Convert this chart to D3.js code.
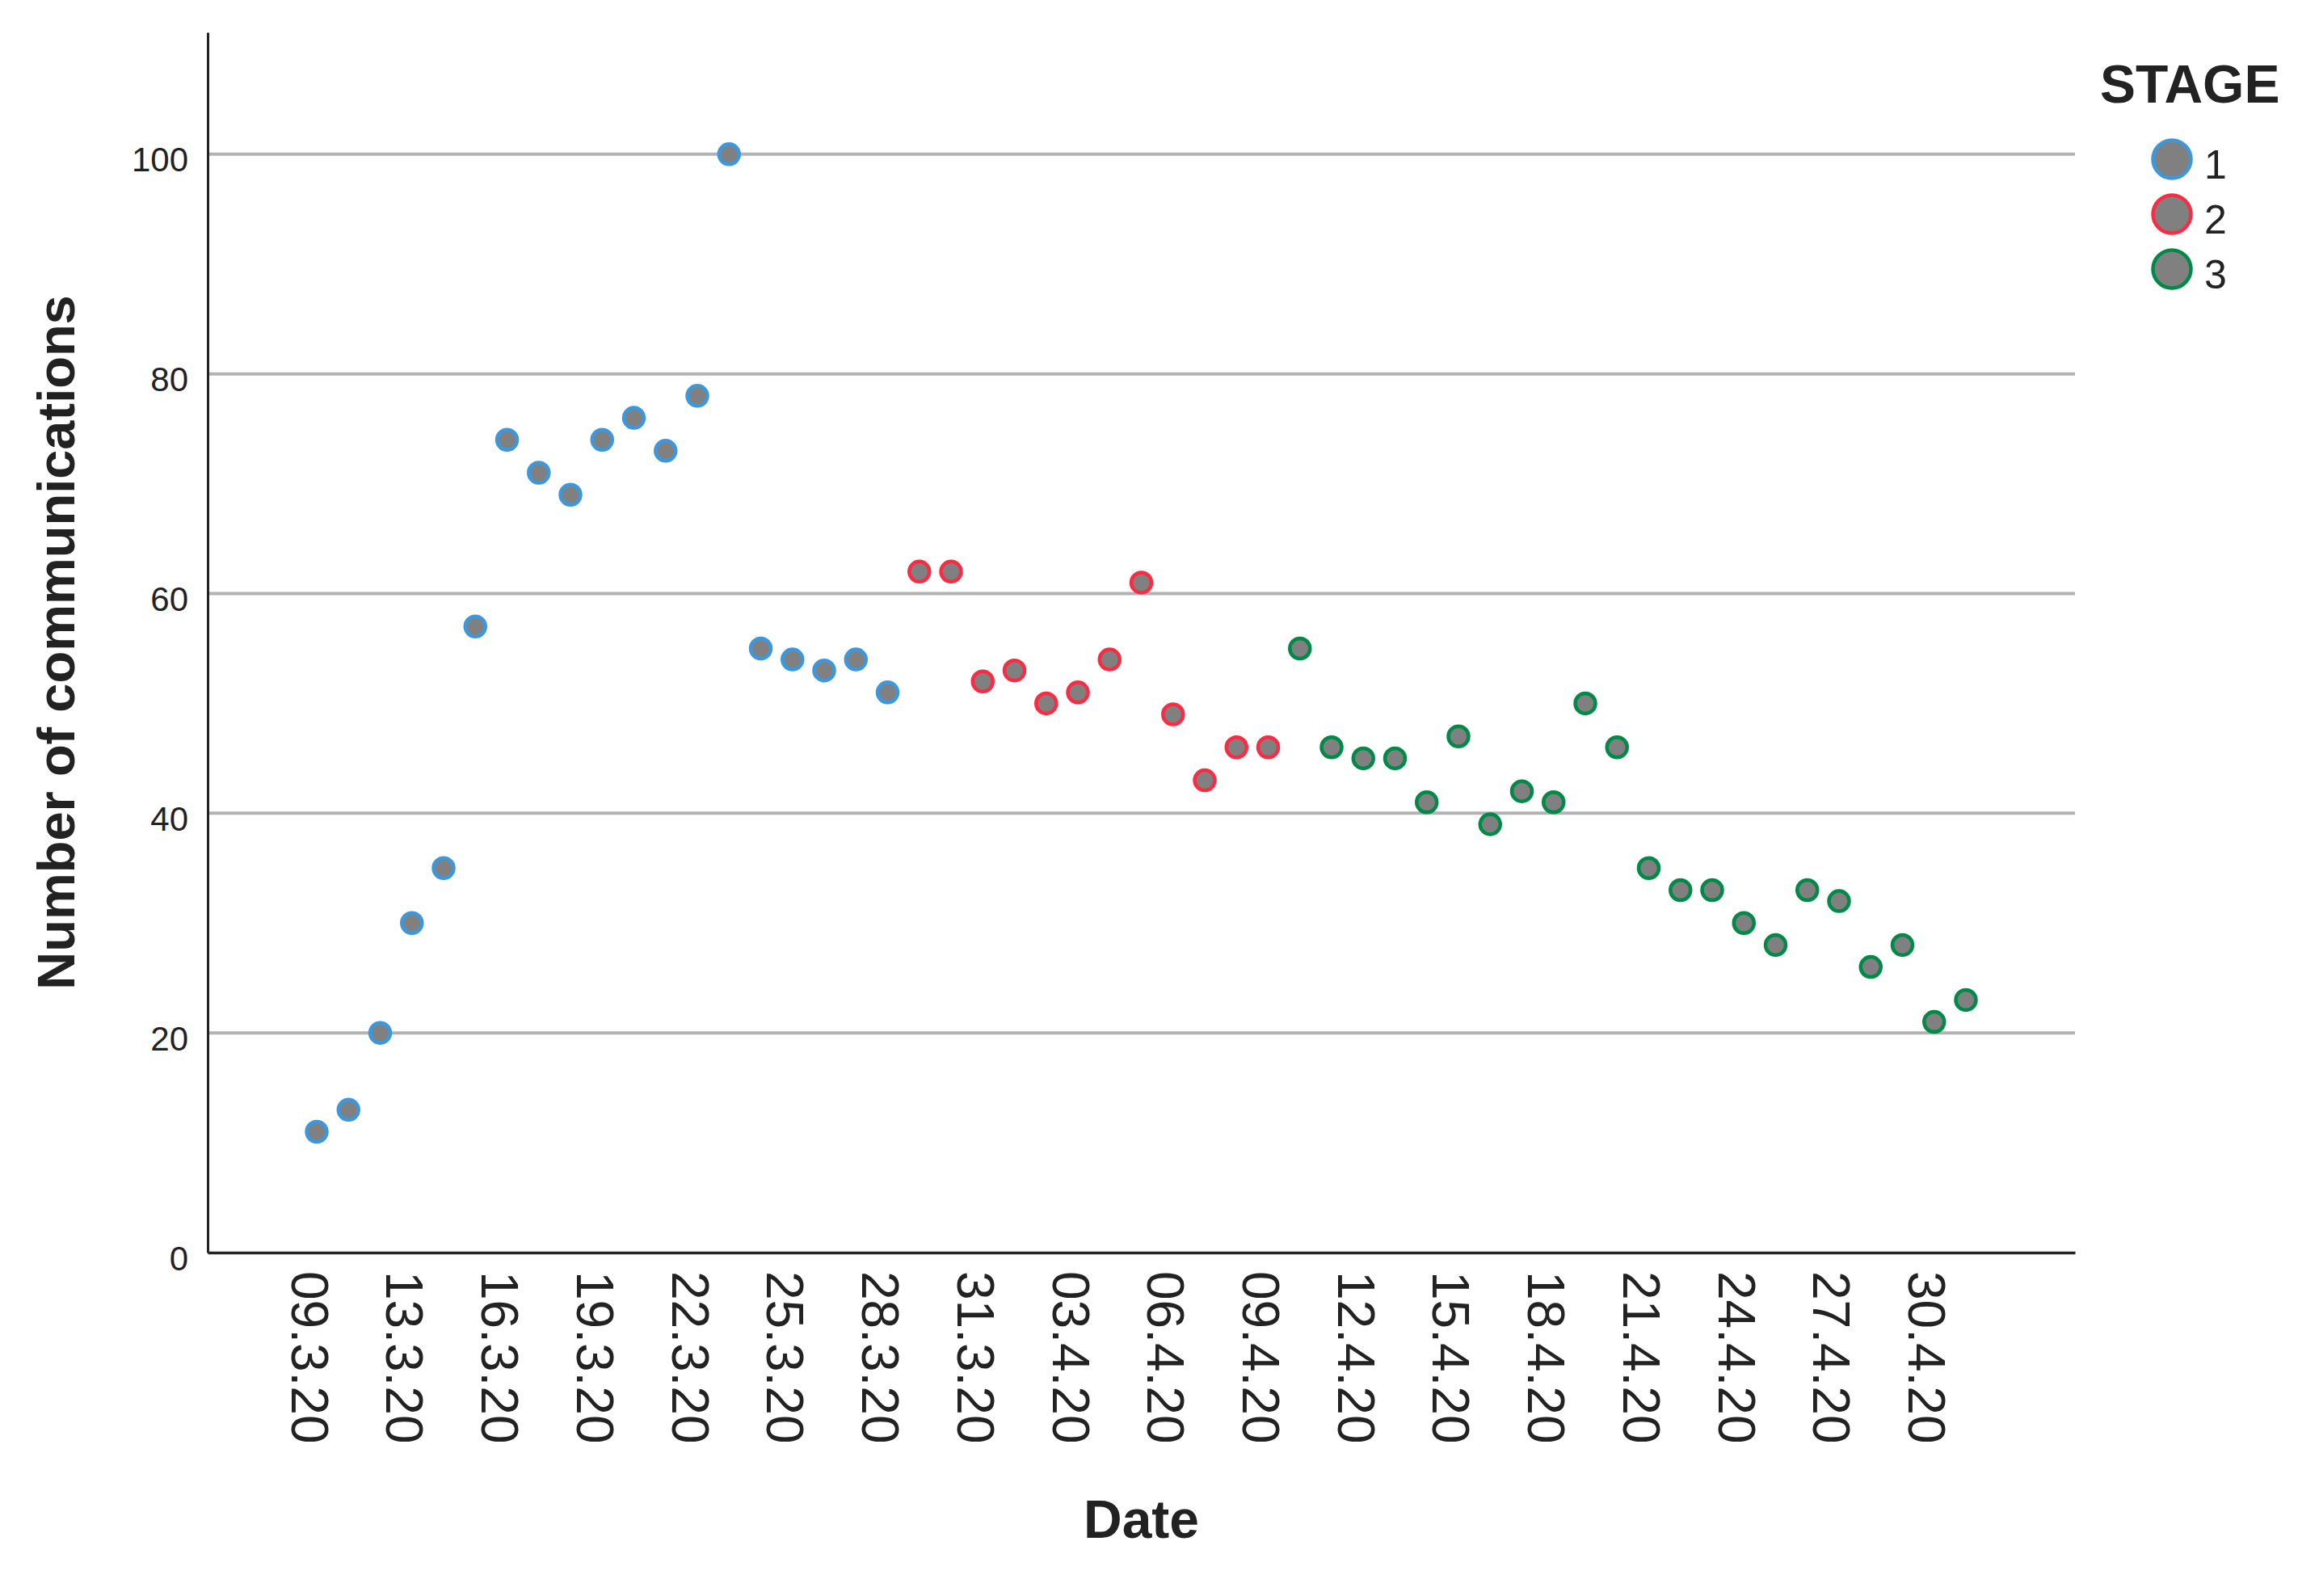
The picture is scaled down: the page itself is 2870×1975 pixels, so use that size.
<!DOCTYPE html>
<html>
<head>
<meta charset="utf-8">
<script src="https://cdn.jsdelivr.net/npm/d3@7"></script>
<style>
  html, body { margin: 0; padding: 0; background: #fff; }
  svg { display: block; }
  text { font-family: "Liberation Sans", Arial, sans-serif; fill: #222; }
</style>
</head>
<body>
<svg id="chart" width="2870" height="1975"></svg>
<script>
// ---------- DATA ----------
const dates = [
  "09.3.20","11.3.20","12.3.20","13.3.20","14.3.20","15.3.20","16.3.20","17.3.20","18.3.20","19.3.20",
  "20.3.20","21.3.20","22.3.20","23.3.20","24.3.20","25.3.20","26.3.20","27.3.20","28.3.20","29.3.20",
  "30.3.20","31.3.20","01.4.20","02.4.20","03.4.20","04.4.20","05.4.20","06.4.20","07.4.20","08.4.20",
  "09.4.20","10.4.20","11.4.20","12.4.20","13.4.20","14.4.20","15.4.20","16.4.20","17.4.20","18.4.20",
  "19.4.20","20.4.20","21.4.20","22.4.20","23.4.20","24.4.20","25.4.20","26.4.20","27.4.20","28.4.20",
  "29.4.20","30.4.20","01.5.20"
];
const stage1Values = [11, 13, 20, 30, 35, 57, 74, 71, 69, 74, 76, 73, 78, 100, 55, 54, 53, 54, 51];
const stage2Values = [62, 62, 52, 53, 50, 51, 54, 61, 49, 43, 46, 46];
const stage3Values = [55, 46, 45, 45, 41, 47, 39, 42, 41, 50, 46, 35, 33, 33, 30, 28, 33, 32, 26, 28, 21, 23];
const stages = ["1", "2", "3"];
const stageColors = ["#3d97db", "#fa2c44", "#008a48"];
const xTickLabels = ["09.3.20","13.3.20","16.3.20","19.3.20","22.3.20","25.3.20","28.3.20","31.3.20",
  "03.4.20","06.4.20","09.4.20","12.4.20","15.4.20","18.4.20","21.4.20","24.4.20","27.4.20","30.4.20"];
const yTickValues = [0, 20, 40, 60, 80, 100];
const yGridValues = [20, 40, 60, 80, 100];

(function () {
// ---------- BUILD POINTS ----------
const seriesValues = [stage1Values, stage2Values, stage3Values];
const points = [];
let k = 0;
seriesValues.forEach((vals, si) => {
  vals.forEach(v => { points.push({ date: dates[k], value: v, stage: si }); k++; });
});

// ---------- LAYOUT ----------
const svg = d3.select("#chart");
const pLeft = 257, pRight = 2568, pTop = 40, pBottom = 1550;

const x = d3.scalePoint().domain(dates).range([pLeft, pRight]).padding(3.44);
const y = d3.scaleLinear().domain([0, 111.1]).range([pBottom, pTop]);
const color = d3.scaleOrdinal().domain([0, 1, 2]).range(stageColors);

// gridlines
svg.append("g").selectAll("line").data(yGridValues).join("line")
  .attr("x1", pLeft).attr("x2", pRight)
  .attr("y1", d => y(d)).attr("y2", d => y(d))
  .attr("stroke", "#b2b2b2").attr("stroke-width", 4);

// y axis
const yAxis = svg.append("g").attr("transform", `translate(${pLeft},0)`)
  .call(d3.axisLeft(y).tickValues(yTickValues).tickSize(0).tickSizeOuter(0).tickPadding(24));
yAxis.select(".domain").attr("stroke", "#222").attr("stroke-width", 3);
yAxis.selectAll("text").attr("font-size", 42).attr("dy", "21px")
  .style("font-family", "'Liberation Sans', Arial, sans-serif").attr("fill", "#222");

// x axis
const xAxis = svg.append("g").attr("transform", `translate(0,${pBottom})`)
  .call(d3.axisBottom(x).tickValues(xTickLabels).tickSize(0).tickSizeOuter(0));
xAxis.select(".domain").attr("stroke", "#222").attr("stroke-width", 3.5);
xAxis.selectAll("text")
  .attr("font-size", 64)
  .attr("transform", "rotate(90)")
  .attr("text-anchor", "start")
  .attr("x", 23).attr("y", 32).attr("dy", 0)
  .style("font-family", "'Liberation Sans', Arial, sans-serif").attr("fill", "#222");

// points
svg.append("g").selectAll("circle").data(points).join("circle")
  .attr("cx", d => x(d.date))
  .attr("cy", d => y(d.value))
  .attr("r", 12.5)
  .attr("fill", "#808080")
  .attr("stroke", d => color(d.stage))
  .attr("stroke-width", 4.5);

// axis titles
svg.append("text")
  .attr("transform", `translate(92,${(pTop + pBottom) / 2}) rotate(-90)`)
  .attr("text-anchor", "middle")
  .attr("font-size", 65).attr("font-weight", "bold")
  .text("Number of communications");

svg.append("text")
  .attr("x", (pLeft + pRight) / 2).attr("y", 1903)
  .attr("text-anchor", "middle")
  .attr("font-size", 66).attr("font-weight", "bold")
  .text("Date");

// legend
const legend = svg.append("g");
legend.append("text").attr("x", 2599).attr("y", 127)
  .attr("font-size", 66).attr("font-weight", "bold").text("STAGE");
const items = legend.selectAll("g.item").data(stages).join("g").attr("class", "item")
  .attr("transform", (d, i) => `translate(2688,${197 + i * 68})`);
items.append("circle").attr("r", 23.5).attr("fill", "#808080")
  .attr("stroke", (d, i) => stageColors[i]).attr("stroke-width", 4.5);
items.append("text").attr("x", 40).attr("y", 24).attr("font-size", 50).text(d => d);
})();
</script>
</body>
</html>
